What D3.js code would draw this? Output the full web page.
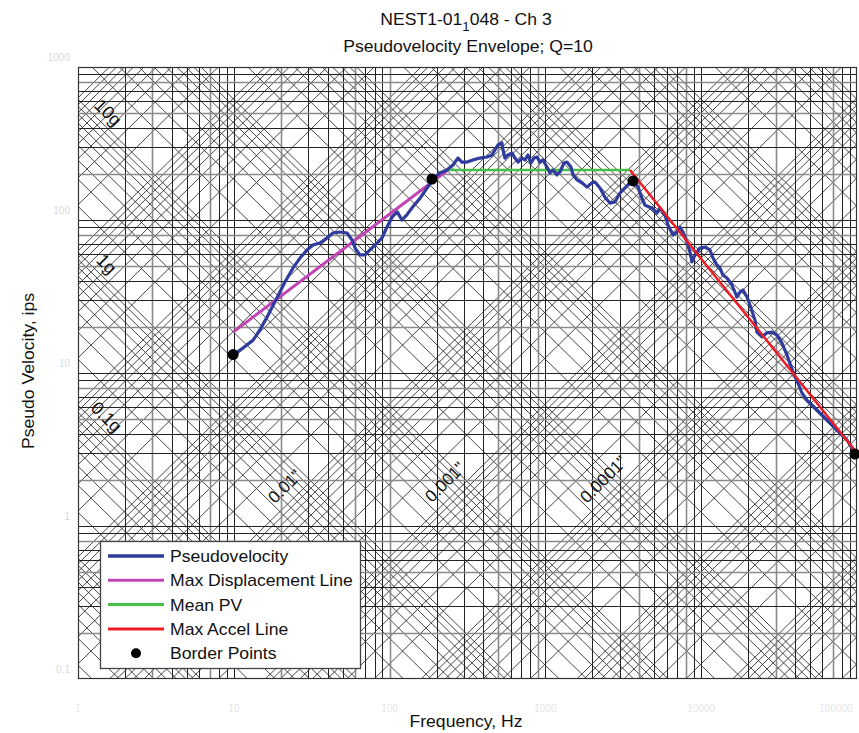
<!DOCTYPE html>
<html>
<head>
<meta charset="utf-8">
<title>Pseudovelocity Envelope</title>
<script src="https://d3js.org/d3.v7.min.js"></script>
<style>
  body { margin: 0; background: #fff; }
  svg { font-family: "Liberation Sans", Arial, sans-serif; }
</style>
</head>
<body>
<div id="chart"></div>
<script>
// pseudovelocity spectrum (Hz, ips)
var pvFreq = [9.88, 11.5, 13.3, 14.7, 16.6, 18.9, 21.3, 24.0, 26.6, 29.5,
  32.2, 35.7, 39.6, 43.3, 48.0, 53.3, 57.4, 60.0, 64.5, 69.5,
  74.8, 83.0, 89.4, 96.2, 104, 112, 120, 129, 141, 157,
  174, 190, 210, 233, 255, 275, 291, 314, 343, 380,
  422, 454, 475, 496, 526, 534, 550, 575, 610, 638,
  667, 707, 739, 773, 808, 845, 883, 923, 965, 1023,
  1070, 1118, 1186, 1240, 1316, 1375, 1459, 1503, 1594, 1717,
  1849, 1990, 2081, 2240, 2412, 2597, 2796, 3011, 3241, 3490,
  3648, 3928, 4167, 4356, 4831, 5202, 5437, 5853, 6119, 6589,
  6989, 7306, 7637, 8102, 8469, 8725, 9120, 9818, 10570, 11380,
  11900, 12620, 13190, 13790, 14630, 15750, 16960, 17740, 18540, 19670,
  20560, 22130, 22790, 24550, 26420, 28450, 30640, 32990, 35520, 38810,
  41780, 44340, 47740, 55340, 64130, 74350, 86190, 97010];
var pvValue = [13.1, 14.6, 16.4, 19.1, 23.9, 30.9, 39.3, 48.6, 56.4, 63.7,
  68.6, 70.7, 76.3, 82.2, 83.5, 82.2, 74.0, 65.6, 59.1, 59.1,
  63.7, 70.7, 76.3, 90.0, 105, 113, 100, 108, 122, 139,
  162, 183, 203, 212, 229, 254, 239, 239, 247, 254,
  258, 266, 287, 309, 319, 287, 254, 266, 274, 254,
  239, 254, 247, 266, 236, 254, 258, 239, 247, 222,
  203, 212, 197, 206, 236, 239, 222, 197, 183, 175,
  164, 175, 177, 162, 141, 129, 131, 150, 162, 175,
  183, 164, 139, 125, 120, 111, 120, 108, 92.8, 79.8,
  83.5, 90.0, 83.5, 71.8, 61.8, 53.2, 59.1, 65.6, 66.6, 63.7,
  56.4, 50.8, 48.6, 43.7, 41.8, 37.6, 31.4, 33.8, 34.9, 31.4,
  27.8, 22.2, 18.5, 17.2, 18.3, 18.5, 17.7, 15.7, 13.1, 10.2,
  8.60, 7.40, 6.66, 5.73, 4.93, 4.24, 3.65, 3.00];

var borderFreq = [9.9, 187, 3650, 97000];
var borderPV = [13.2, 185, 180, 2.95];

var dispLineFreq = [9.9, 237];
var dispLinePV = [18.5, 212];
var meanFreq = [237, 3490];
var meanPV = [212, 212];
var accelLineFreq = [3490, 100000];
var accelLinePV = [212, 3.0];

var freqTicks = [1, 10, 100, 1000, 10000, 100000];
var pvTicks = [0.1, 1, 10, 100, 1000];

var accelLabels = ["10g", "1g", "0.1g"];
var accelLabelG = [10, 1, 0.1];
var accelLabelFreq = [1.25, 1.29, 1.19];
var dispLabels = ["0.01\"", "0.001\"", "0.0001\""];
var dispLabelIn = [0.01, 0.001, 0.0001];
var dispLabelFreq = [18.4, 187, 1850];

var legendNames = ["Pseudovelocity", "Max Displacement Line", "Mean PV", "Max Accel Line", "Border Points"];
var colors = ["#2f3c9e", "#c244b4", "#48c048", "#ec1c24", "#000"];

var G = 386.09; // in/s^2

var width = 859, height = 733;
var plotLeft = 78, plotRight = 857, plotTop = 67, plotBottom = 679;

var x = d3.scaleLog().domain([1, 1e5]).range([plotLeft, plotRight]);
var y = d3.scaleLog().domain([0.1, 1000]).range([plotBottom, plotTop]);

var svg = d3.select("#chart").append("svg")
  .attr("width", width)
  .attr("height", height);

svg.append("clipPath").attr("id", "plotclip")
  .append("rect")
  .attr("x", plotLeft).attr("y", plotTop)
  .attr("width", plotRight - plotLeft).attr("height", plotBottom - plotTop);

var grid = svg.append("g").attr("clip-path", "url(#plotclip)");

// diagonal lines: constant acceleration (down-right) and constant displacement (up-right)
var accelVals = d3.scaleLog().domain([1e-3, 1e7]).ticks(100);
var dispVals = d3.scaleLog().domain([1e-8, 1e3]).ticks(100);

grid.selectAll("line.acc").data(accelVals).enter().append("line")
  .attr("class", "acc")
  .attr("x1", x(1)).attr("y1", function(a) { return y(a * G / (2 * Math.PI * 1)); })
  .attr("x2", x(1e5)).attr("y2", function(a) { return y(a * G / (2 * Math.PI * 1e5)); })
  .attr("stroke", "#333").attr("stroke-width", 0.9);

grid.selectAll("line.disp").data(dispVals).enter().append("line")
  .attr("class", "disp")
  .attr("x1", x(1)).attr("y1", function(d) { return y(2 * Math.PI * 1 * d); })
  .attr("x2", x(1e5)).attr("y2", function(d) { return y(2 * Math.PI * 1e5 * d); })
  .attr("stroke", "#333").attr("stroke-width", 0.9);

// vertical and horizontal log grid
grid.selectAll("line.vx").data(x.ticks()).enter().append("line")
  .attr("class", "vx")
  .attr("x1", function(d) { return Math.round(x(d)) + 0.5; })
  .attr("x2", function(d) { return Math.round(x(d)) + 0.5; })
  .attr("y1", plotTop).attr("y2", plotBottom)
  .attr("stroke", function(d, i) { return i % 4 == 2 ? "#8a8a8a" : "#222"; })
  .attr("stroke-width", function(d, i) { return i % 4 == 2 ? 1.6 : 1; });

grid.selectAll("line.hy").data(y.ticks()).enter().append("line")
  .attr("class", "hy")
  .attr("y1", function(d) { return Math.round(y(d)) + 0.5; })
  .attr("y2", function(d) { return Math.round(y(d)) + 0.5; })
  .attr("x1", plotLeft).attr("x2", plotRight)
  .attr("stroke", function(d, i) { return i % 3 == 1 ? "#8a8a8a" : "#222"; })
  .attr("stroke-width", function(d, i) { return i % 3 == 1 ? 1.6 : 1; });

svg.append("rect")
  .attr("x", plotLeft + 0.5).attr("y", plotTop + 0.5)
  .attr("width", plotRight - plotLeft - 1).attr("height", plotBottom - plotTop - 1)
  .attr("fill", "none").attr("stroke", "#333").attr("stroke-width", 1.2);

// diagonal labels
accelLabels.forEach(function(t, i) {
  var f = accelLabelFreq[i];
  var px = x(f), py = y(accelLabelG[i] * G / (2 * Math.PI * f)) - 8;
  svg.append("text")
    .attr("transform", "translate(" + px + "," + py + ") rotate(45)")
    .attr("font-size", 18).attr("fill", "#111")
    .text(t);
});
dispLabels.forEach(function(t, i) {
  var f = dispLabelFreq[i];
  var px = x(f), py = y(2 * Math.PI * f * dispLabelIn[i]) - 12;
  svg.append("text")
    .attr("transform", "translate(" + px + "," + py + ") rotate(-45)")
    .attr("font-size", 17).attr("fill", "#111")
    .text(t);
});

// faint tick labels
svg.selectAll("text.xt").data(freqTicks).enter().append("text")
  .attr("class", "xt")
  .attr("x", function(d) { return Math.min(x(d), 836); })
  .attr("y", 712)
  .attr("text-anchor", "middle")
  .attr("font-size", 10).attr("fill", "#e6e6e6")
  .text(function(d) { return d; });
svg.selectAll("text.yt").data(pvTicks).enter().append("text")
  .attr("class", "yt")
  .attr("x", 70)
  .attr("y", function(d) { return y(d) - 6; })
  .attr("text-anchor", "end")
  .attr("font-size", 10).attr("fill", "#dadada")
  .text(function(d) { return d; });

// curves
var pvData = pvFreq.map(function(f, i) { return [f, pvValue[i]]; });
var line = d3.line()
  .x(function(d) { return x(d[0]); })
  .y(function(d) { return y(d[1]); });

var curves = svg.append("g").attr("clip-path", "url(#plotclip)");

curves.append("path")
  .datum(dispLineFreq.map(function(f, i) { return [f, dispLinePV[i]]; }))
  .attr("d", line).attr("fill", "none")
  .attr("stroke", colors[1]).attr("stroke-width", 3);
curves.append("path")
  .datum(meanFreq.map(function(f, i) { return [f, meanPV[i]]; }))
  .attr("d", line).attr("fill", "none")
  .attr("stroke", colors[2]).attr("stroke-width", 2.5);
curves.append("path")
  .datum(pvData)
  .attr("d", line).attr("fill", "none")
  .attr("stroke", colors[0]).attr("stroke-width", 3.2)
  .attr("stroke-linejoin", "round");
curves.append("path")
  .datum(accelLineFreq.map(function(f, i) { return [f, accelLinePV[i]]; }))
  .attr("d", line).attr("fill", "none")
  .attr("stroke", colors[3]).attr("stroke-width", 2.5);

svg.selectAll("circle.bp").data(borderFreq).enter().append("circle")
  .attr("class", "bp")
  .attr("cx", function(d) { return x(d); })
  .attr("cy", function(d, i) { return y(borderPV[i]); })
  .attr("r", 5.5)
  .attr("fill", "#000");

// legend
var lg = svg.append("g");
lg.append("rect")
  .attr("x", 100.5).attr("y", 541.5)
  .attr("width", 260).attr("height", 127)
  .attr("fill", "#fff").attr("stroke", "#444").attr("stroke-width", 1.3);
legendNames.forEach(function(name, i) {
  var cy = 556 + i * 24.3;
  if (i < 4) {
    lg.append("line")
      .attr("x1", 108).attr("x2", 164)
      .attr("y1", cy).attr("y2", cy)
      .attr("stroke", colors[i]).attr("stroke-width", i == 0 ? 3.5 : 3);
  } else {
    lg.append("circle").attr("cx", 136).attr("cy", cy).attr("r", 5).attr("fill", "#000");
  }
  lg.append("text")
    .attr("transform", "translate(170," + (cy + 6) + ") scale(1.1,1)")
    .attr("font-size", 16).attr("fill", "#111")
    .text(name);
});

// titles
var t1 = svg.append("text")
  .attr("transform", "translate(466,25) scale(1.1,1)")
  .attr("text-anchor", "middle")
  .attr("font-size", 16).attr("fill", "#111");
t1.append("tspan").text("NEST1-01");
t1.append("tspan").attr("font-size", 12).attr("dy", 6).text("1");
t1.append("tspan").attr("dy", -6).text("048 - Ch 3");

svg.append("text")
  .attr("transform", "translate(468,52) scale(1.1,1)")
  .attr("text-anchor", "middle")
  .attr("font-size", 16).attr("fill", "#111")
  .text("Pseudovelocity Envelope; Q=10");

svg.append("text")
  .attr("transform", "translate(466,727) scale(1.1,1)")
  .attr("text-anchor", "middle")
  .attr("font-size", 16).attr("fill", "#111")
  .text("Frequency, Hz");

svg.append("text")
  .attr("transform", "translate(34,371) rotate(-90) scale(1.1,1)")
  .attr("text-anchor", "middle")
  .attr("font-size", 16).attr("fill", "#111")
  .text("Pseudo Velocity, ips");
</script>
</body>
</html>
